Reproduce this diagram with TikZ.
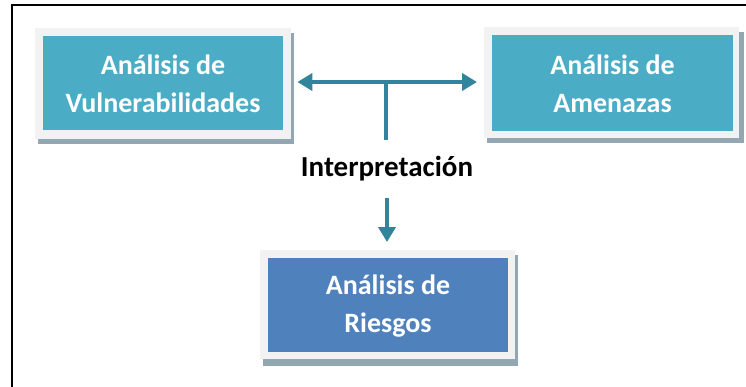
\documentclass[tikz,border=0pt]{standalone}
\usepackage{fontspec}
\setmainfont{Carlito}
\usetikzlibrary{arrows.meta}
\definecolor{teal1}{HTML}{4BACC6}
\definecolor{blue1}{HTML}{4F81BD}
\definecolor{arrowc}{HTML}{31849B}
\definecolor{frameg}{HTML}{F2F2F2}
\definecolor{shadowg}{HTML}{92A7B1}
\begin{document}
\begin{tikzpicture}[x=1pt,y=-1pt,
  outerbox/.style={fill=frameg, draw=none, anchor=north west, inner sep=0pt},
  textbox/.style={draw=none, text=white, font=\fontsize{28}{38}\selectfont\bfseries, align=center, inner sep=0pt},
  conn/.style={draw=arrowc, line width=4pt},
  arr/.style={conn, -{Triangle[length=15pt,width=17pt]}},
  darr/.style={conn, {Triangle[length=15pt,width=17pt]}-{Triangle[length=15pt,width=17pt]}}
]
\useasboundingbox (0,0) rectangle (746,386);
% outer frame (left and top edges visible)
\draw[line width=2pt] (12,400) -- (12,5) -- (760,5);
% shadows
\fill[shadowg] (38,33) rectangle (294,144);
\fill[shadowg] (487,32) rectangle (744,143);
\fill[shadowg] (263,255) rectangle (518,366);
% outer gray frames
\node[outerbox, minimum width=256pt, minimum height=111pt] (vo) at (35,28) {};
\node[outerbox, minimum width=255pt, minimum height=111pt] (ao) at (484,27) {};
\node[outerbox, minimum width=255pt, minimum height=109pt] (ro) at (260,250) {};
% inner boxes
\fill[teal1] (43,36) rectangle (283,130);
\fill[teal1] (492,35) rectangle (733,131);
\fill[blue1] (268,258) rectangle (508,352);
\node[textbox] (v) at (163,84) {Análisis de\\Vulnerabilidades};
\node[textbox] (a) at (612.5,84) {Análisis de\\Amenazas};
\node[textbox] (r) at (388,306) {Análisis de\\Riesgos};
% label
\node[font=\fontsize{29}{34}\selectfont\bfseries, inner sep=0pt] (interp) at (387,169) {Interpretación};
% connectors
\coordinate (j) at (386,82);
\coordinate (s) at (386,140);
\coordinate (d) at (387,198);
\draw[darr, shorten <=6pt, shorten >=7pt] (vo.east |- j) -- (ao.west |- j);
\draw[conn] (j) -- (s);
\draw[arr, shorten >=8pt] (d) -- (ro.north -| d);
\end{tikzpicture}
\end{document}
